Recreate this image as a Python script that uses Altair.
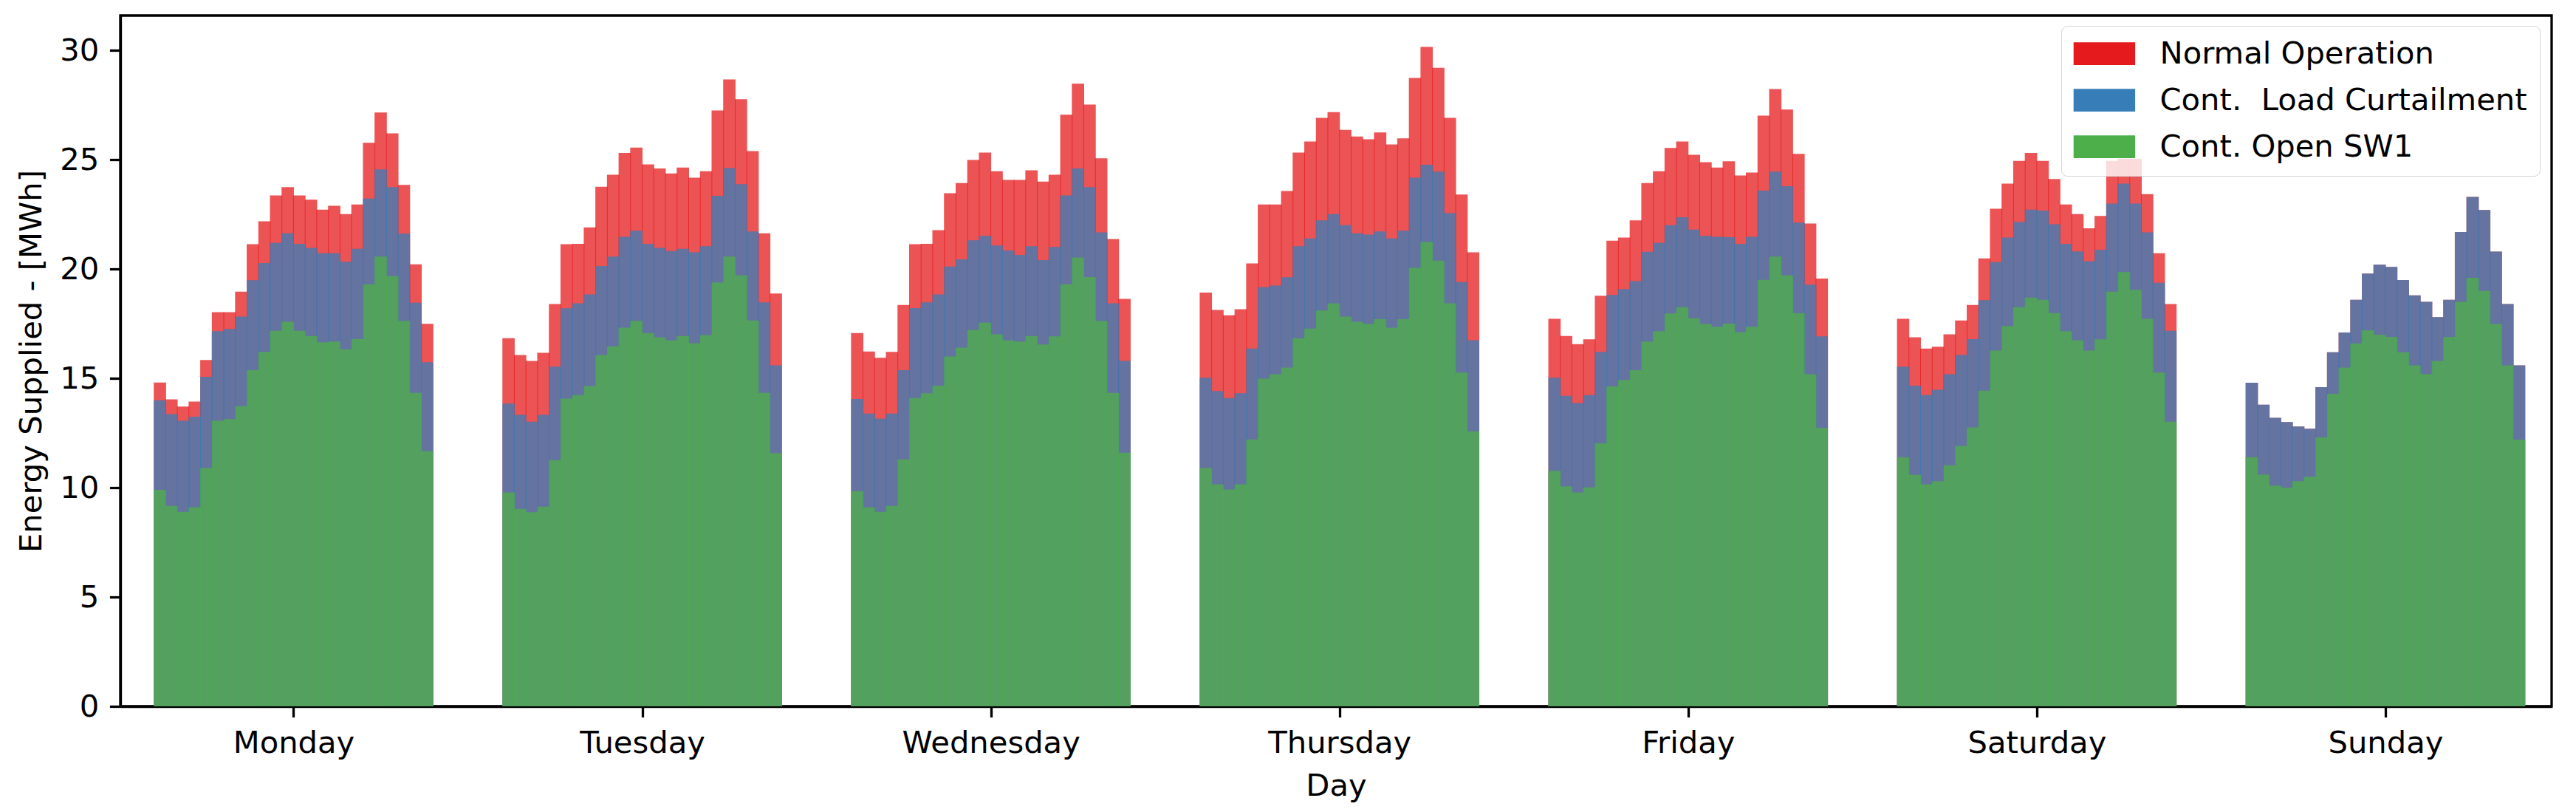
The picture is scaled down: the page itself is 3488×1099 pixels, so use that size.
import altair as alt
import pandas as pd

days = ["Monday", "Tuesday", "Wednesday", "Thursday", "Friday", "Saturday", "Sunday"]
series_names = ["Normal Operation", "Cont.\u00a0 Load Curtailment", "Cont. Open SW1"]
series_colors = ["#e41a1c", "#377eb8", "#4daf4a"]

normal = [
    [14.81,14.04,13.71,13.94,15.84,18.03,18.03,18.97,21.14,22.19,23.37,23.75,23.37,23.18,22.72,22.90,22.52,22.96,25.78,27.16,26.21,23.85,20.22,17.50],
    [16.84,16.07,15.80,16.17,18.40,21.14,21.16,21.91,23.77,24.32,25.31,25.56,24.79,24.60,24.38,24.65,24.18,24.48,27.26,28.68,27.77,25.40,21.64,18.88],
    [17.08,16.23,15.94,16.21,18.36,21.14,21.16,21.78,23.47,23.94,24.99,25.33,24.48,24.08,24.08,24.52,24.00,24.32,27.06,28.48,27.53,25.07,21.38,18.64],
    [18.93,18.13,17.89,18.17,20.26,22.96,22.96,23.57,25.33,25.84,26.92,27.18,26.37,26.07,25.94,26.25,25.70,25.98,28.74,30.16,29.21,26.92,23.41,20.77],
    [17.73,16.94,16.57,16.79,18.78,21.30,21.44,22.23,23.94,24.48,25.54,25.84,25.23,24.89,24.65,24.93,24.28,24.42,27.02,28.24,27.30,25.27,22.09,19.57],
    [17.73,16.88,16.37,16.45,17.02,17.65,18.36,20.49,22.76,23.91,24.95,25.31,24.95,24.12,22.96,22.52,21.87,22.43,24.95,25.05,25.05,23.43,20.73,18.40],
    [14.8,13.8,13.2,13.0,12.8,12.7,14.6,16.2,17.1,18.6,19.8,20.2,20.1,19.5,18.8,18.5,17.8,18.6,21.7,23.3,22.7,20.8,18.4,15.6],
]
curtail = [
    [14.00,13.37,13.06,13.25,15.07,17.16,17.26,17.83,19.49,20.28,21.20,21.64,21.16,20.97,20.73,20.73,20.34,20.93,23.23,24.56,23.75,21.62,18.46,15.74],
    [13.85,13.33,13.02,13.33,15.54,18.21,18.44,18.84,20.14,20.57,21.48,21.76,21.16,20.97,20.83,20.93,20.77,21.05,23.35,24.62,23.89,21.72,18.48,15.60],
    [14.06,13.39,13.16,13.39,15.38,18.22,18.48,18.84,20.12,20.45,21.32,21.52,21.08,20.85,20.65,21.05,20.41,21.01,23.37,24.60,23.75,21.68,18.44,15.80],
    [15.03,14.42,14.10,14.32,16.37,19.17,19.25,19.63,21.05,21.40,22.23,22.52,22.01,21.64,21.58,21.72,21.40,21.76,24.18,24.77,24.46,22.56,19.41,16.75],
    [15.03,14.20,13.87,14.24,16.21,18.82,19.09,19.45,20.79,21.20,22.01,22.37,21.81,21.52,21.48,21.46,21.16,21.48,23.59,24.46,23.79,22.13,19.29,16.92],
    [15.54,14.67,14.24,14.48,15.19,16.07,16.80,18.58,20.32,21.44,22.15,22.72,22.68,22.05,21.16,20.81,20.36,20.89,23.00,23.91,23.00,21.68,19.37,17.18],
    [14.8,13.8,13.2,13.0,12.8,12.7,14.6,16.2,17.1,18.6,19.8,20.2,20.1,19.5,18.8,18.5,17.8,18.6,21.7,23.3,22.7,20.8,18.4,15.6],
]
open_sw1 = [
    [9.90,9.17,8.90,9.11,10.91,13.06,13.14,13.73,15.38,16.21,17.18,17.59,17.18,16.94,16.65,16.69,16.33,16.80,19.31,20.57,19.68,17.63,14.34,11.68],
    [9.78,9.03,8.88,9.13,11.26,14.08,14.24,14.65,16.07,16.47,17.32,17.63,17.08,16.88,16.75,16.94,16.61,16.98,19.39,20.57,19.72,17.65,14.34,11.58],
    [9.84,9.11,8.90,9.17,11.30,14.10,14.32,14.67,16.00,16.41,17.22,17.55,17.02,16.75,16.69,16.94,16.55,16.92,19.31,20.53,19.64,17.63,14.34,11.60],
    [10.91,10.16,9.92,10.16,12.21,14.99,15.19,15.50,16.84,17.28,18.11,18.44,17.83,17.59,17.50,17.71,17.32,17.71,20.06,21.24,20.39,18.44,15.27,12.58],
    [10.77,10.06,9.78,10.02,12.03,14.63,14.93,15.38,16.69,17.16,17.97,18.26,17.75,17.50,17.36,17.51,17.12,17.36,19.51,20.57,19.72,17.99,15.19,12.74],
    [11.40,10.59,10.16,10.30,11.03,11.91,12.76,14.44,16.27,17.40,18.26,18.70,18.60,17.99,17.16,16.75,16.27,16.79,18.97,19.86,19.05,17.73,15.27,13.02],
    [11.4,10.6,10.1,10.0,10.3,10.5,12.3,14.3,15.5,16.6,17.2,17.0,16.9,16.2,15.6,15.2,15.8,16.9,18.5,19.6,19.0,17.5,15.6,12.2],
]
y_ticks = [0, 5, 10, 15, 20, 25, 30]

SLOTS_PER_DAY = 30  # 24 hourly bars + gap
rows = []
for s_name, table in zip(series_names, [normal, curtail, open_sw1]):
    for d, vals in enumerate(table):
        for h, v in enumerate(vals):
            pos = d * SLOTS_PER_DAY + h
            rows.append({"series": s_name, "day": days[d], "hour": h,
                         "x0": pos - 0.03, "x1": pos + 1.03, "value": v})
df = pd.DataFrame(rows)

day_centers = [d * SLOTS_PER_DAY + 12 for d in range(len(days))]
label_expr = "[" + ",".join("'%s'" % n for n in days) + "][round((datum.value - 12) / 30)]"

FS = 41.7
FONT = "DejaVu Sans"

color = alt.Color(
    "series:N",
    scale=alt.Scale(domain=series_names, range=series_colors),
    legend=alt.Legend(
        title=None, orient="none", legendX=2628, legendY=14,
        labelFont=FONT, labelFontSize=FS, labelColor="black",
        symbolType="M-1.986,-0.73L1.986,-0.73L1.986,0.73L-1.986,0.73Z",
        symbolSize=1764, symbolOffset=20.7, labelOffset=54.1,
        symbolOpacity=1, symbolStrokeWidth=0,
        rowPadding=20, padding=16.7, fillColor="rgba(255,255,255,0.8)",
        strokeColor="#d5d5d5", cornerRadius=8, labelLimit=1000,
    ),
)

x_enc = alt.X("x0:Q", scale=alt.Scale(domain=[-2.9, 206.3], nice=False, zero=False),
              axis=alt.Axis(values=day_centers, labelExpr=label_expr, title="Day",
                            grid=False))
y_enc = alt.Y("value:Q", stack=None, scale=alt.Scale(domain=[0, 31.6], nice=False),
              axis=alt.Axis(values=y_ticks, title="Energy Supplied - [MWh]", grid=False))

layers = []
for s_name in series_names:
    layers.append(
        alt.Chart(df).transform_filter(alt.datum.series == s_name)
        .mark_bar(opacity=0.75, strokeWidth=0)
        .encode(x=x_enc, x2="x1:Q", y=y_enc, y2=alt.datum(0), color=color)
    )

chart = alt.layer(*layers).properties(
    width=3292, height=935,
    autosize=alt.AutoSizeParams(type="none"),
    padding={"left": 155, "top": 13, "right": 25, "bottom": 135},
).configure_view(stroke="black", strokeWidth=3.3).configure_axis(
    labelFont=FONT, titleFont=FONT, labelFontSize=FS, titleFontSize=FS,
    titleFontWeight="normal", labelColor="black", titleColor="black",
    tickSize=14.6, tickWidth=3.3, tickColor="black", labelPadding=14.6,
    titlePadding=16.7, domainColor="black", domainWidth=3.3, zindex=1,
    labelLimit=0,
)

chart.save("out.html", embed_options={"renderer": "svg", "actions": False})
